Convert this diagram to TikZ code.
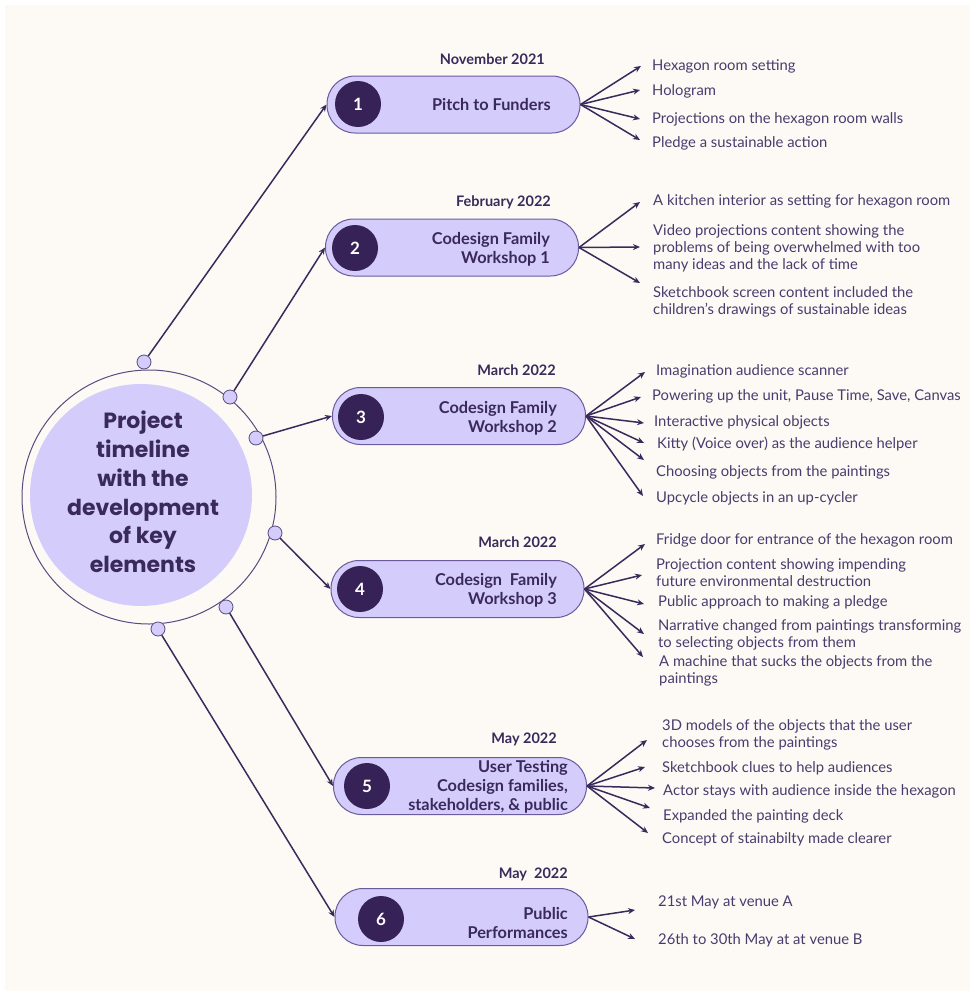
\documentclass[tikz,border=0pt]{standalone}
\usepackage{fontspec}
\setmainfont{Lato}
\newfontfamily\headfont{Poppins}
\usetikzlibrary{arrows.meta}
\definecolor{bgc}{HTML}{FDFAF5}
\definecolor{pillf}{HTML}{D4CCFB}
\definecolor{pillb}{HTML}{6B5B9E}
\definecolor{darkp}{HTML}{362257}
\definecolor{txtd}{HTML}{3A2A5C}
\definecolor{txti}{HTML}{4A3B6E}
\definecolor{ringc}{HTML}{5A4A7F}
\begin{document}
\begin{tikzpicture}[x=1pt,y=-1pt,
  conn/.style={draw=txtd, line width=1.5pt, -{Stealth[length=7pt,width=6pt]}},
  pill/.style={draw=pillb, line width=1pt, fill=pillf, rounded corners=28pt, minimum width=253pt, minimum height=57pt},
  numc/.style={circle, fill=darkp, minimum size=46pt, inner sep=0pt, text=white, font=\fontsize{17}{20}\selectfont\bfseries},
  ttl/.style={anchor=east, align=right, inner sep=0pt, yshift=-1pt, text=txtd, font=\fontsize{16.3}{19}\selectfont\bfseries},
  datec/.style={anchor=east, inner sep=0pt, yshift=-1pt, text=txtd, font=\fontsize{14.5}{17}\selectfont\bfseries},
  item/.style={anchor=west, align=left, inner sep=0pt, yshift=-1.5pt, text=txti, font=\fontsize{14.8}{17}\selectfont},
  dotc/.style={circle, draw=ringc, line width=0.8pt, fill=pillf, minimum size=14pt, inner sep=0pt}
]
\useasboundingbox (0,0) rectangle (975,996);
\fill[white] (0,0) rectangle (975,996);
\fill[bgc] (5,5) rectangle (970,991);

% central circle
\node[circle, draw=ringc, line width=1pt, minimum size=254pt, inner sep=0pt] (ring) at (149,497) {};
\node[circle, fill=pillf, minimum size=222pt, inner sep=0pt] (core) at (141,495) {};
\node[align=center, text=txtd, font=\headfont\fontsize{22}{28.7}\selectfont\bfseries] (head) at (143,492)
  {Project\\timeline\\with the\\development\\of key\\elements};

% dots on ring
\node[dotc] (c1) at (144,362) {};
\node[dotc] (c2) at (230,397) {};
\node[dotc] (c3) at (256,438) {};
\node[dotc] (c4) at (275,533) {};
\node[dotc] (c5) at (226,607) {};
\node[dotc] (c6) at (158,629) {};

% pills
\node[pill] (p1) at (453.5,104.5) {};
\node[pill] (p2) at (452,247.5) {};
\node[pill] (p3) at (459,416) {};
\node[pill] (p4) at (457.5,589) {};
\node[pill] (p5) at (460,786) {};
\node[pill] (p6) at (461.5,917) {};

\node[numc] (n1) at (358,104) {1};
\node[numc] (n2) at (355,248) {2};
\node[numc] (n3) at (361,417) {3};
\node[numc] (n4) at (360,589) {4};
\node[numc] (n5) at (367,786) {5};
\node[numc] (n6) at (381,919) {6};

\node[ttl] (t1) at (551,104) {Pitch to Funders};
\node[ttl] (t2) at (550,248) {Codesign Family\\Workshop 1};
\node[ttl] (t3) at (557,417.5) {Codesign Family\\Workshop 2};
\node[ttl] (t4) at (557,589) {Codesign\ \ Family\\Workshop 3};
\node[ttl] (t5) at (568,786) {User Testing\\Codesign families,\\stakeholders, \& public};
\node[ttl] (t6) at (568,921.5) {Public\\Performances};

\node[datec] (d1) at (545,58) {November 2021};
\node[datec] (d2) at (551,201) {February 2022};
\node[datec] (d3) at (556,369) {March 2022};
\node[datec] (d4) at (557,541) {March 2022};
\node[datec] (d5) at (557,738) {May 2022};
\node[datec] (d6) at (568,873) {May\ \ 2022};

% ring to pills
\draw[conn] (c1) -- (p1.west);
\draw[conn] (c2) -- (p2.west);
\draw[conn] (c3) -- (p3.west);
\draw[conn] (c4) -- (p4.west);
\draw[conn] (c5) -- (p5.west);
\draw[conn] (c6) -- (p6.west);

% items pill 1
\node[item] (i11) at (652,65) {Hexagon room setting};
\node[item] (i12) at (652,90) {Hologram};
\node[item] (i13) at (652,118) {Projections on the hexagon room walls};
\node[item] (i14) at (652,142) {Pledge a sustainable action};
\coordinate (a11) at (641,66);
\coordinate (a12) at (640,90);
\coordinate (a13) at (640,119);
\coordinate (a14) at (640,140);
\foreach \k in {11,12,13,14} \draw[conn] (p1.east) -- (a\k);

% items pill 2
\node[item] (i21) at (653,200) {A kitchen interior as setting for hexagon room};
\node[item] (i22) at (653,247) {Video projections content showing the\\problems of being overwhelmed with too\\many ideas and the lack of time};
\node[item] (i23) at (653,300.5) {Sketchbook screen content included the\\children's drawings of sustainable ideas};
\coordinate (a21) at (640,202);
\coordinate (a22) at (640,247);
\coordinate (a23) at (640,283);
\foreach \k in {21,22,23} \draw[conn] (p2.east) -- (a\k);

% items pill 3
\node[item] (i31) at (656,370) {Imagination audience scanner};
\node[item] (i32) at (652,395) {Powering up the unit, Pause Time, Save, Canvas};
\node[item] (i33) at (654,421) {Interactive physical objects};
\node[item] (i34) at (657,443) {Kitty (Voice over) as the audience helper};
\node[item] (i35) at (656,471) {Choosing objects from the paintings};
\node[item] (i36) at (656,497) {Upcycle objects in an up-cycler};
\coordinate (a31) at (645,372);
\coordinate (a32) at (641,397);
\coordinate (a33) at (644,423);
\coordinate (a34) at (644,443);
\coordinate (a35) at (644,460);
\coordinate (a36) at (643,496);
\foreach \k in {31,32,33,34,35,36} \draw[conn] (p3.east) -- (a\k);

% items pill 4
\node[item] (i41) at (656,539) {Fridge door for entrance of the hexagon room};
\node[item] (i42) at (656,571) {Projection content showing impending\\future environmental destruction};
\node[item] (i43) at (658,601) {Public approach to making a pledge};
\node[item] (i44) at (658,633) {Narrative changed from paintings transforming\\to selecting objects from them};
\node[item] (i45) at (659,669) {A machine that sucks the objects from the\\paintings};
\coordinate (a41) at (645,544);
\coordinate (a42) at (642,575);
\coordinate (a43) at (644,604);
\coordinate (a44) at (644,634);
\coordinate (a45) at (643,657);
\foreach \k in {41,42,43,44,45} \draw[conn] (p4.east) -- (a\k);

% items pill 5
\node[item] (i51) at (662,733.5) {3D models of the objects that the user\\chooses from the paintings};
\node[item] (i52) at (662,767) {Sketchbook clues to help audiences};
\node[item] (i53) at (663,790) {Actor stays with audience inside the hexagon};
\node[item] (i54) at (663,815) {Expanded the painting deck};
\node[item] (i55) at (662,838) {Concept of stainabilty made clearer};
\coordinate (a51) at (647,740);
\coordinate (a52) at (645,767);
\coordinate (a53) at (655,788);
\coordinate (a54) at (650,808);
\coordinate (a55) at (648,833);
\foreach \k in {51,52,53,54,55} \draw[conn] (p5.east) -- (a\k);

% items pill 6
\node[item] (i61) at (658,901) {21st May at venue A};
\node[item] (i62) at (658,939) {26th to 30th May at at venue B};
\coordinate (a61) at (635,910);
\coordinate (a62) at (635,939);
\foreach \k in {61,62} \draw[conn] (p6.east) -- (a\k);
\end{tikzpicture}
\end{document}
